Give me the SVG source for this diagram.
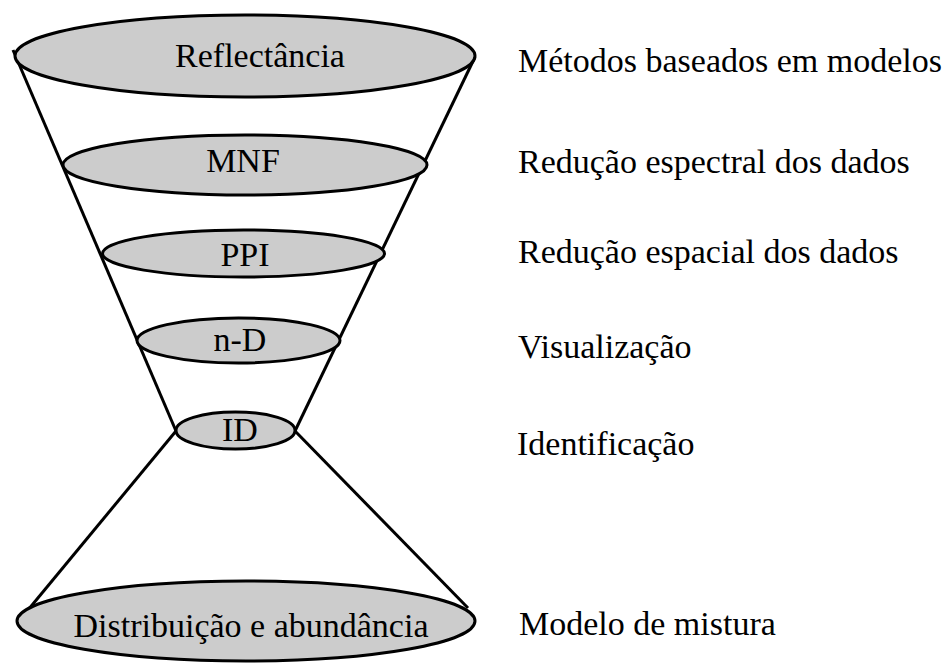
<svg xmlns="http://www.w3.org/2000/svg" width="951" height="664" viewBox="0 0 951 664">
<style>
.n{fill:#cccccc;stroke:#000;stroke-width:3}
.c{stroke:#000;stroke-width:3;fill:none}
text{font-family:"Liberation Serif","Times New Roman",serif;font-size:34px;fill:#000}
.m{text-anchor:middle}
</style>
<rect width="951" height="664" fill="#fff"/>
<g id="connectors">
<line class="c" x1="13" y1="50" x2="176" y2="431"/>
<line class="c" x1="475" y1="57" x2="295" y2="431"/>
<line class="c" x1="176" y1="431" x2="28" y2="610"/>
<line class="c" x1="295" y1="431" x2="468" y2="608"/>
</g>
<g id="reflectancia"><ellipse class="n" cx="245" cy="56" rx="230" ry="41"/><text class="m" x="260" y="67">Reflectância</text></g>
<g id="mnf"><ellipse class="n" cx="245" cy="165" rx="182" ry="30"/><text class="m" x="243" y="172">MNF</text></g>
<g id="ppi"><ellipse class="n" cx="243.5" cy="253.5" rx="141" ry="23.5"/><text class="m" x="245" y="266">PPI</text></g>
<g id="nd"><ellipse class="n" cx="238.5" cy="340.5" rx="101.5" ry="22.5"/><text class="m" x="240" y="351">n-D</text></g>
<g id="id"><ellipse class="n" cx="235.5" cy="430.5" rx="59.5" ry="18.5"/><text class="m" x="240" y="441">ID</text></g>
<g id="distribuicao"><ellipse class="n" cx="246" cy="621" rx="229" ry="40"/><text class="m" x="251" y="637">Distribuição e abundância</text></g>
<g id="labels">
<text x="518" y="72">Métodos baseados em modelos</text>
<text x="518" y="173">Redução espectral dos dados</text>
<text x="518" y="263">Redução espacial dos dados</text>
<text x="518" y="358">Visualização</text>
<text x="517" y="455">Identificação</text>
<text x="519" y="635">Modelo de mistura</text>
</g>
</svg>
